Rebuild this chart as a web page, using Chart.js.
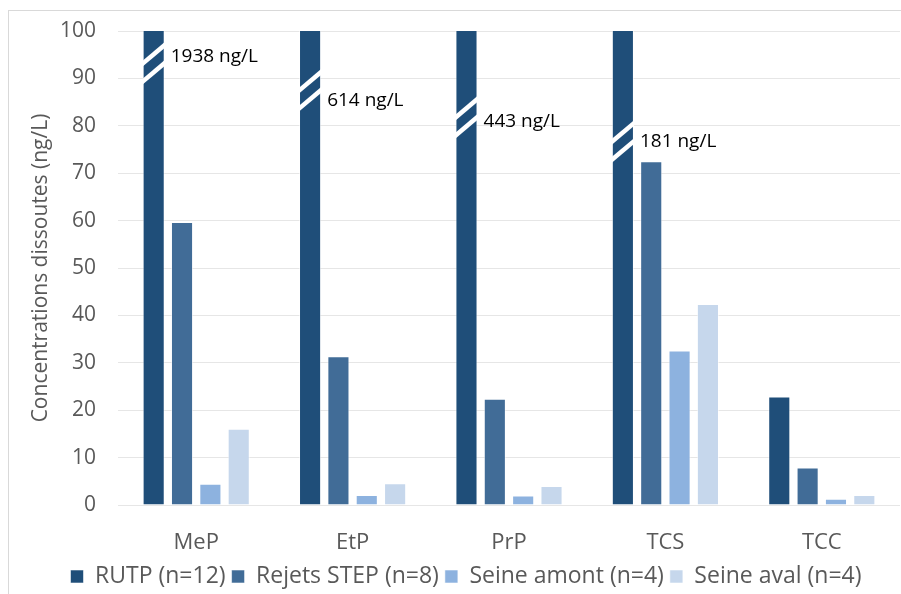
<!DOCTYPE html>
<html>
<head>
<meta charset="utf-8">
<script src="https://cdn.jsdelivr.net/npm/chart.js@4"></script>
<style>
  html, body { margin: 0; padding: 0; background: #fff; }
  #wrap { position: relative; width: 901px; height: 594px; overflow: hidden; }
  #frame { position: absolute; left: 8px; top: 10px; width: 1000px; height: 1000px; border: 1px solid #d9d9d9; box-sizing: border-box; }
  #chart { position: absolute; left: 0; top: 0; }
</style>
</head>
<body>
<div id="wrap">
  <div id="frame"></div>
  <canvas id="chart" width="901" height="594"></canvas>
</div>
<script>
const categories = ['MeP', 'EtP', 'PrP', 'TCS', 'TCC']
const rutp = [1938, 614, 443, 181, 22.9]
const rejetsStep = [59.7, 31.4, 22.4, 72.5, 7.9]
const seineAmont = [4.5, 2.1, 2.0, 32.6, 1.3]
const seineAval = [16.1, 4.6, 4.0, 42.4, 2.1]
const yTicks = [0, 10, 20, 30, 40, 50, 60, 70, 80, 90, 100]

// where the break marks / value labels sit on the clipped RUTP bars (in axis units)
const breakAt = [93.2, 87.5, 81.8, 76.7]
const labelAt = [94.5, 85.4, 80.9, 76.7]

const grey = '#595959'
const font = "'Open Sans', 'Liberation Sans', sans-serif"

const breakPlugin = {
  id: 'breaks',
  afterLayout(chart) {
    // the legend sits a bit right of centre and lower in the original
    chart.legend.left += 16
    chart.legend.right += 16
    chart.legend.top += 4
    chart.legend.bottom += 4
  },
  afterDatasetsDraw(chart) {
    const ctx = chart.ctx
    const y = chart.scales.y
    const meta = chart.getDatasetMeta(0)
    meta.data.forEach((bar, i) => {
      if (rutp[i] <= 100) return
      const half = bar.width / 2
      const yc = y.getPixelForValue(breakAt[i])
      ctx.save()
      ctx.beginPath()
      ctx.rect(bar.x - half, chart.chartArea.top, bar.width, chart.chartArea.bottom - chart.chartArea.top)
      ctx.clip()
      ctx.strokeStyle = '#ffffff'
      ctx.lineWidth = 4.5
      ;[-9, 9].forEach(d => {
        ctx.beginPath()
        ctx.moveTo(bar.x - half - 2, yc + d + 11)
        ctx.lineTo(bar.x + half + 2, yc + d - 11)
        ctx.stroke()
      })
      ctx.restore()

      ctx.save()
      ctx.fillStyle = '#000'
      ctx.font = "19px " + font
      ctx.textBaseline = 'middle'
      ctx.textAlign = 'left'
      ctx.fillText(rutp[i] + ' ng/L', bar.x + half + 6, y.getPixelForValue(labelAt[i]))
      ctx.restore()
    })
  }
}

const barStyle = {borderWidth: 1, borderColor: 'rgba(255,255,255,0.55)', categoryPercentage: 0.725, barPercentage: 0.78}

new Chart(document.getElementById('chart'), {
  type: 'bar',
  data: {
    labels: categories,
    datasets: [
      {label: 'RUTP (n=12)', data: rutp, backgroundColor: '#1f4e79', ...barStyle},
      {label: 'Rejets STEP (n=8)', data: rejetsStep, backgroundColor: '#416c97', ...barStyle},
      {label: 'Seine amont (n=4)', data: seineAmont, backgroundColor: '#8db2df', ...barStyle},
      {label: 'Seine aval (n=4)', data: seineAval, backgroundColor: '#c6d7ec', ...barStyle},
    ],
  },
  options: {
    responsive: false,
    animation: false,
    layout: {padding: {top: 31, right: 1, left: 0, bottom: 0}},
    plugins: {
      tooltip: {enabled: false},
      legend: {
        position: 'bottom',
        labels: {
          color: grey,
          font: {family: font, size: 23},
          boxWidth: 13,
          boxHeight: 13,
          padding: 6,
        }
      }
    },
    scales: {
      x: {
        grid: {display: false, drawTicks: false},
        border: {display: false},
        ticks: {color: grey, font: {family: font, size: 22}, padding: 25},
        afterFit: s => { s.height = 50; s.paddingLeft = 0; s.paddingRight = 0 }
      },
      y: {
        min: 0,
        max: 100,
        afterBuildTicks: s => { s.ticks = yTicks.map(v => ({value: v})) },
        grid: {color: '#e6e6e6', drawTicks: false},
        border: {display: false},
        ticks: {color: grey, font: {family: font, size: 21}, padding: 22},
        title: {display: true, text: 'Concentrations dissoutes (ng/L)', color: grey, font: {family: font, size: 21}, padding: {top: 28, bottom: 4}},
        afterFit: s => { s.width = 118; s.paddingTop = 0; s.paddingBottom = 0 }
      }
    }
  },
  plugins: [breakPlugin]
})
</script>
</body>
</html>
